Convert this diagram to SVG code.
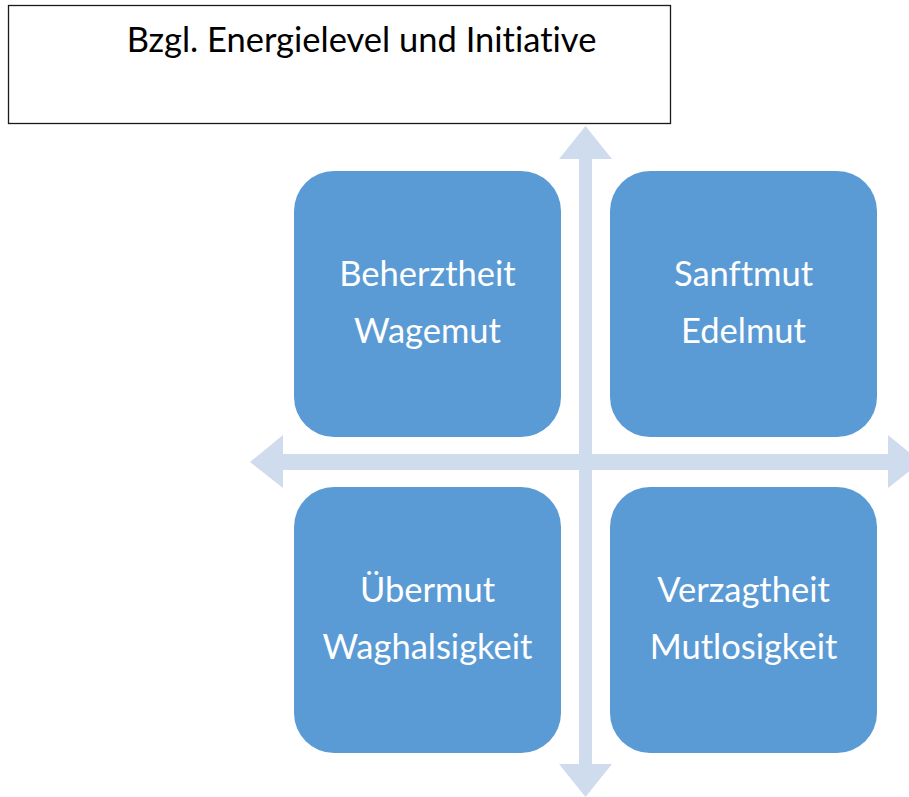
<svg xmlns="http://www.w3.org/2000/svg" width="909" height="797" viewBox="0 0 909 797">
<style>
text{font-family:Lato,"Open Sans",sans-serif;font-variant-ligatures:none}
.box{fill:#5B9BD5}
.lbl{font-size:34.5px;fill:#FFFFFF;text-anchor:middle}
.arrow{fill:#CFDCEE}
</style>
<rect x="0" y="0" width="909" height="797" fill="#FFFFFF"/>
<g id="title">
<rect x="8.5" y="5.5" width="662" height="118" fill="#FFFFFF" stroke="#1a1a1a" stroke-width="1.3"/>
<text x="361.5" y="52" style="font-size:34.5px;fill:#000000;text-anchor:middle">Bzgl. Energielevel und Initiative</text>
</g>
<g id="connectors">
<polygon class="arrow" points="585.5,126 612,159 592,159 592,764 612,764 585.5,797 559,764 579,764 579,159 559,159"/>
<polygon class="arrow" points="250,462 283,435 283,454 888,454 888,435 921,462 888,488 888,470 283,470 283,488"/>
</g>
<g id="n1">
<rect class="box" x="294" y="171" width="267" height="266" rx="40" ry="40"/>
<text class="lbl" x="427.5" y="286">Beherztheit</text>
<text class="lbl" x="427.5" y="343">Wagemut</text>
</g>
<g id="n2">
<rect class="box" x="610" y="171" width="267" height="266" rx="40" ry="40"/>
<text class="lbl" x="743.5" y="286">Sanftmut</text>
<text class="lbl" x="743.5" y="343">Edelmut</text>
</g>
<g id="n3">
<rect class="box" x="294" y="487" width="267" height="266" rx="40" ry="40"/>
<text class="lbl" x="427.5" y="602">Übermut</text>
<text class="lbl" x="427.5" y="659">Waghalsigkeit</text>
</g>
<g id="n4">
<rect class="box" x="610" y="487" width="267" height="266" rx="40" ry="40"/>
<text class="lbl" x="743.5" y="602">Verzagtheit</text>
<text class="lbl" x="743.5" y="659">Mutlosigkeit</text>
</g>
</svg>
